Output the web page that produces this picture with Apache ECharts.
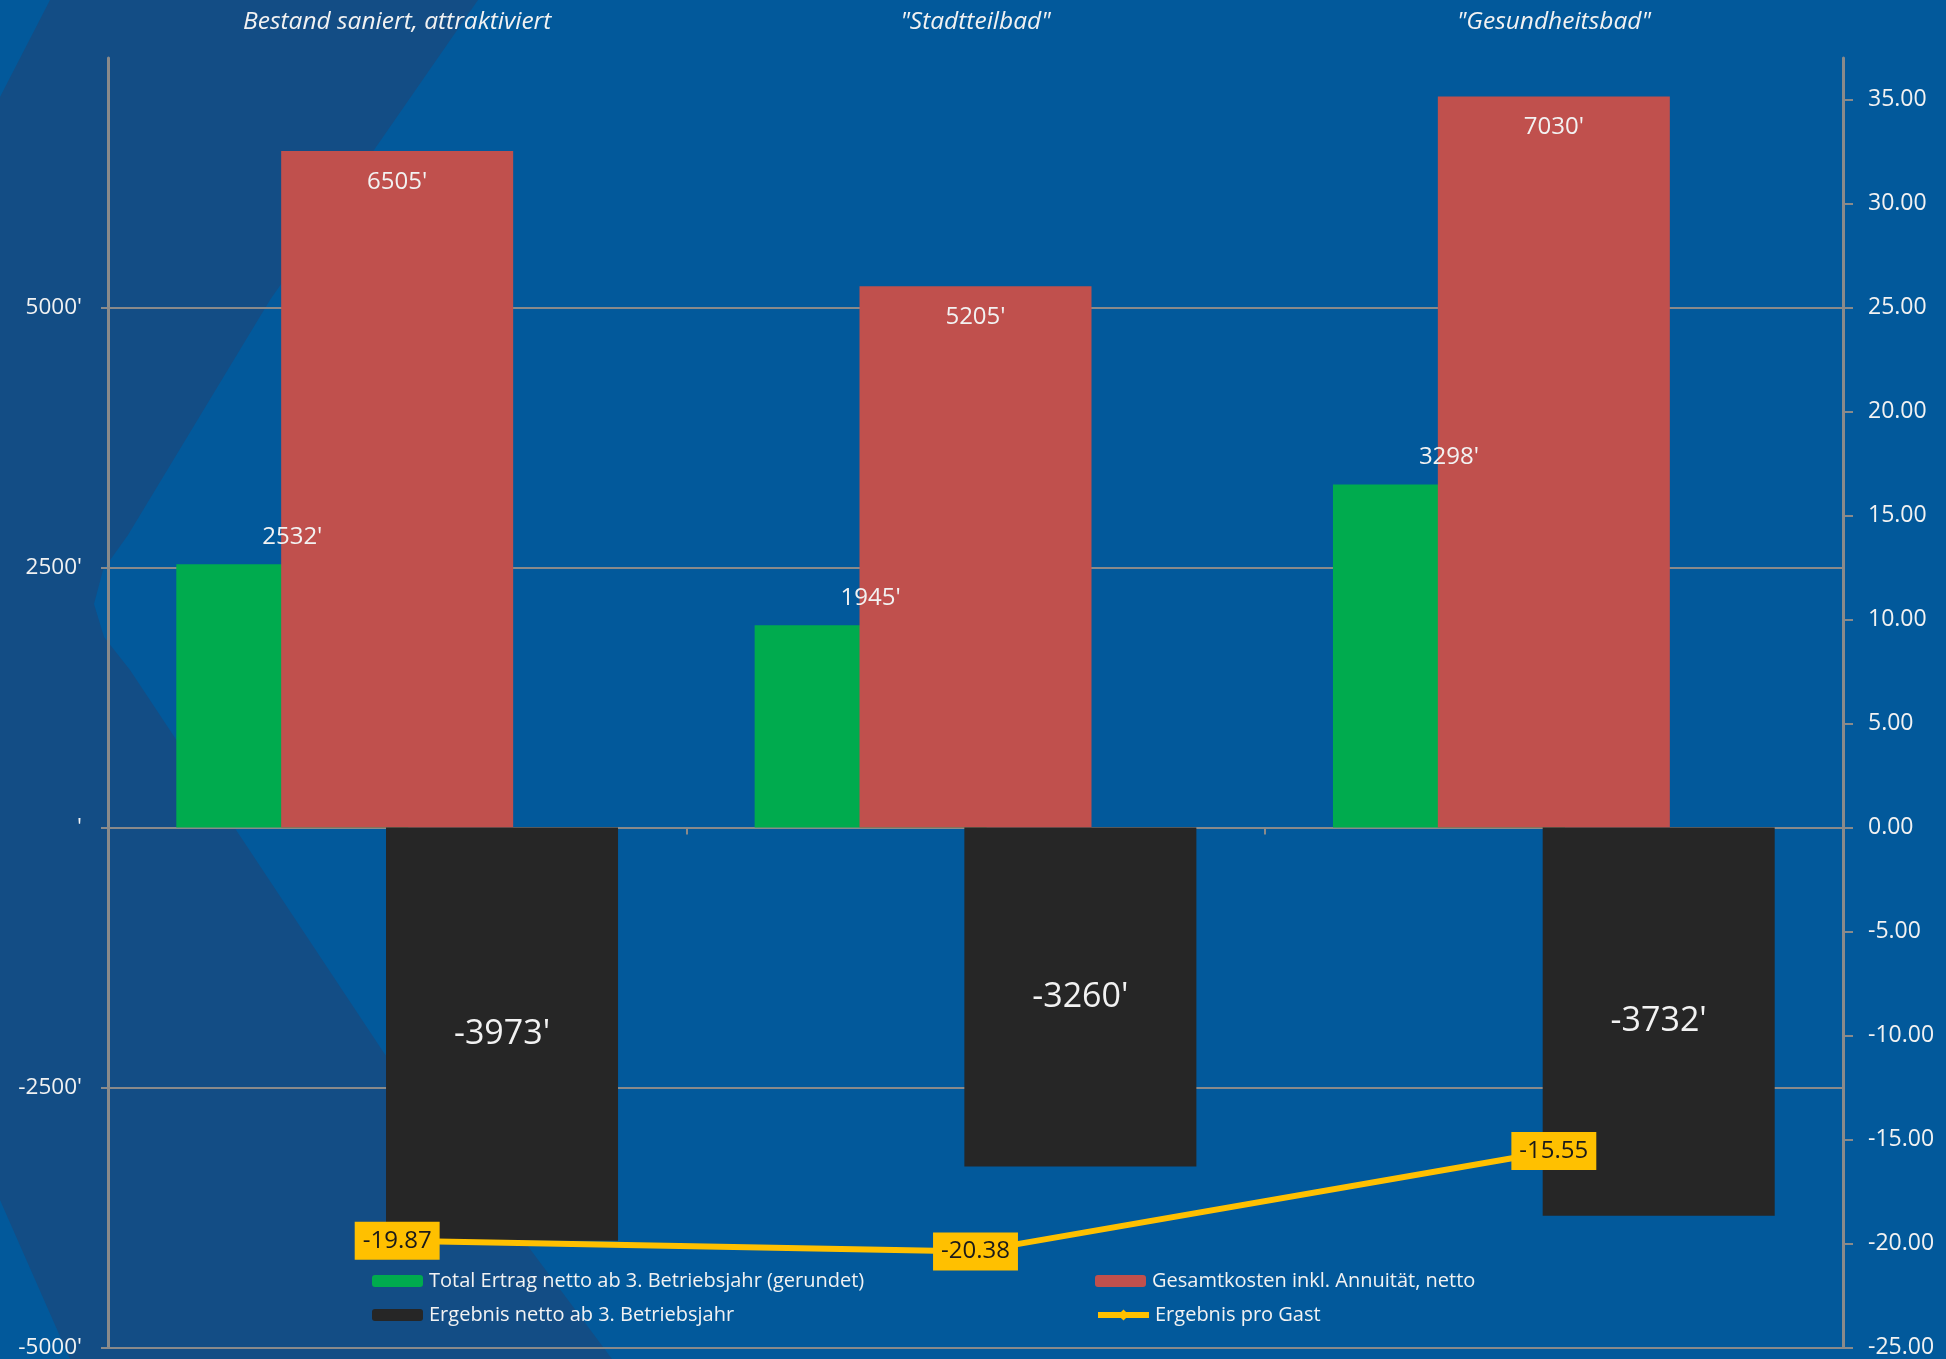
<!DOCTYPE html>
<html>
<head>
<meta charset="utf-8">
<script src="https://cdn.jsdelivr.net/npm/echarts@6/dist/echarts.min.js"></script>
<style>
html,body{margin:0;padding:0;background:#02599B;}
#chart{width:1946px;height:1359px;}
</style>
</head>
<body>
<div id="chart"></div>
<script>
// ---- data ----
const categories = ['Bestand saniert, attraktiviert', '"Stadtteilbad"', '"Gesundheitsbad"'];
const ertragNetto = [2532, 1945, 3298];
const gesamtkosten = [6505, 5205, 7030];
const ergebnisNetto = [-3973, -3260, -3732];
const ergebnisProGast = [-19.87, -20.38, -15.55];
const seriesNames = [
  'Total Ertrag netto ab 3. Betriebsjahr (gerundet)',
  'Gesamtkosten inkl. Annuität, netto',
  'Ergebnis netto ab 3. Betriebsjahr',
  'Ergebnis pro Gast'
];

const FONT = 'Open Sans';
const GRID = '#8a8a8a';
const chart = echarts.init(document.getElementById('chart'));

const kFmt = v => (v === 0 ? "'" : v + "'");

const legendBase = (name, left, top, extra) => Object.assign({
  data: [name], left: left, top: top, padding: 0, itemWidth: 51, itemHeight: 12,
  itemGap: 0, selectedMode: false,
  textStyle: { color: '#F2F2F2', fontFamily: FONT, fontSize: 20, padding: [0, 0, 0, 1] }
}, extra || {});

// background band (decoration only)
const bandPts = [[50,0],[478,0],[270,300],[128,535],[103,570],[94,604],[104,637],[130,670],[384,1053],[612,1359],[70,1359],[0,1200],[0,97]];

chart.setOption({
  backgroundColor: '#02599B',
  animation: false,
  graphic: { elements: [{
    type: 'polygon', z: -100, silent: true,
    shape: { points: bandPts },
    style: { fill: '#134D85' }
  }]},
  grid: { left: 108, right: 103, top: 58, bottom: 8, containLabel: false },
  legend: [
    legendBase(seriesNames[0], 372, 1271),
    legendBase(seriesNames[1], 1095, 1271),
    legendBase(seriesNames[2], 372, 1305),
    legendBase(seriesNames[3], 1095, 1305, { itemHeight: 14, lineStyle: { width: 6, color: '#FFC000' } })
  ],
  xAxis: [{
    type: 'category', data: categories, position: 'bottom',
    axisLine: { show: true, onZero: true, lineStyle: { color: GRID, width: 2 } },
    axisTick: { show: true, length: 7, lineStyle: { color: GRID, width: 2 } },
    axisLabel: { show: false }, splitLine: { show: false }
  }, {
    type: 'category', data: categories, position: 'top',
    axisLine: { show: false }, axisTick: { show: false },
    axisLabel: { show: true, margin: 23, color: '#F2F2F2', fontFamily: FONT, fontSize: 24.5, fontStyle: 'italic' }
  }],
  yAxis: [{
    type: 'value', min: -5000, max: 7400, interval: 2500,
    axisLine: { show: true, lineStyle: { color: GRID, width: 3 } },
    axisTick: { show: true, length: 7, lineStyle: { color: GRID, width: 2 } },
    axisLabel: { color: '#F2F2F2', fontFamily: FONT, fontSize: 22.5, margin: 26, showMaxLabel: false, formatter: kFmt },
    splitLine: { show: true, showMaxLine: false, lineStyle: { color: GRID, width: 2 } }
  }, {
    type: 'value', min: -25, max: 37, interval: 5, position: 'right',
    axisLine: { show: true, lineStyle: { color: GRID, width: 3 } },
    axisTick: { show: true, length: 10, lineStyle: { color: GRID, width: 2 } },
    axisLabel: { color: '#F2F2F2', fontFamily: FONT, fontSize: 23, margin: 25, showMaxLabel: false, formatter: v => v.toFixed(2) },
    splitLine: { show: false }
  }],
  series: [{
    name: seriesNames[0], type: 'bar', data: ertragNetto, barWidth: 232, barGap: '-54.8%',
    itemStyle: { color: '#00AB4E' },
    label: { show: true, position: 'top', distance: 15, color: '#F2F2F2', fontFamily: FONT, fontSize: 24, formatter: p => kFmt(p.value) }
  }, {
    name: seriesNames[1], type: 'bar', data: gesamtkosten, barWidth: 232, barGap: '-54.8%',
    itemStyle: { color: '#C0504D' },
    label: { show: true, position: 'insideTop', distance: 19, color: '#F2F2F2', fontFamily: FONT, fontSize: 24, formatter: p => kFmt(p.value) }
  }, {
    name: seriesNames[2], type: 'bar', data: ergebnisNetto, barWidth: 232, barGap: '-54.8%',
    itemStyle: { color: '#262626' },
    label: { show: true, position: 'inside', color: '#F2F2F2', fontFamily: FONT, fontSize: 34, formatter: p => kFmt(p.value) }
  }, {
    name: seriesNames[3], type: 'line', yAxisIndex: 1, data: ergebnisProGast, z: 5,
    symbol: 'diamond', symbolSize: 10,
    lineStyle: { color: '#FFC000', width: 6 }, itemStyle: { color: '#FFC000' },
    label: { show: true, position: 'inside', color: '#1A1A1A', fontFamily: FONT, fontSize: 24,
      backgroundColor: '#FFC000', padding: [8, 8, 6, 8], formatter: p => p.value.toFixed(2) }
  }]
});
</script>
</body>
</html>
